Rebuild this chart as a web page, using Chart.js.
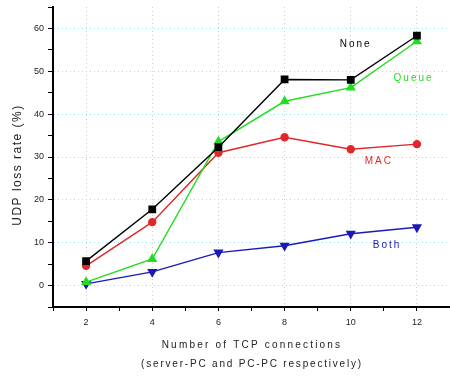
<!DOCTYPE html>
<html>
<head>
<meta charset="utf-8">
<script src="https://cdn.jsdelivr.net/npm/chart.js@4"></script>
<style>
  html, body { margin: 0; padding: 0; background: #fff; }
  #wrap { width: 450px; height: 376px; }
</style>
</head>
<body>
<div id="wrap"><canvas id="udpLoss"></canvas></div>
<script>
const connections = [2, 4, 6, 8, 10, 12];
const noneLoss  = [5.7, 17.8, 32.3, 48.1, 48.0, 58.3];
const queueLoss = [0.8, 6.2, 33.6, 43.0, 46.2, 57.0];
const macLoss   = [4.6, 14.8, 31.0, 34.6, 31.8, 33.0];
const bothLoss  = [0.4, 3.2, 7.7, 9.3, 12.1, 13.6];

const seriesNames  = ['None', 'Queue', 'MAC', 'Both'];
const seriesColors = ['#000000', '#22dd22', '#e02828', '#1a1ab8'];
const seriesMarks  = ['rect', 'triangle', 'circle', 'triangle'];
// where each series name is written, in data units
const labelX = [10.15, 11.9, 10.85, 11.1];
const labelY = [56.3, 48.3, 28.9, 9.5];

const xTitle = ['Number of TCP connections', '(server-PC and PC-PC respectively)'];
const yTitle = 'UDP loss rate (%)';

const toPoints = vals => connections.map((c, i) => ({ x: c, y: vals[i] }));
const allSeries = [noneLoss, queueLoss, macLoss, bothLoss];
const fontFam = '"Liberation Sans", Arial, sans-serif';

// series names + axis titles (drawn by hand to get the wide letter spacing)
const textLayer = {
  id: 'textLayer',
  afterDatasetsDraw(chart) {
    const { ctx, chartArea, scales: { x, y } } = chart;
    ctx.save();
    ctx.textAlign = 'center';
    ctx.textBaseline = 'middle';
    ctx.font = '10px ' + fontFam;
    ctx.letterSpacing = '2px';
    seriesNames.forEach((name, i) => {
      ctx.fillStyle = seriesColors[i];
      ctx.fillText(name, x.getPixelForValue(labelX[i]), y.getPixelForValue(labelY[i]));
    });

    ctx.fillStyle = '#222';
    const cx = 252;
    ctx.font = '10px ' + fontFam;
    ctx.letterSpacing = '2.2px';
    ctx.fillText(xTitle[0], cx, chartArea.bottom + 38);
    ctx.letterSpacing = '1.8px';
    ctx.fillText(xTitle[1], cx, chartArea.bottom + 57);

    ctx.translate(18, chartArea.top + 158);
    ctx.rotate(-Math.PI / 2);
    ctx.font = '12px ' + fontFam;
    ctx.letterSpacing = '1.5px';
    ctx.fillText(yTitle, 0, 0);
    ctx.restore();
  }
};

const gridColor = '#9fdfe6';

new Chart(document.getElementById('udpLoss'), {
  type: 'scatter',
  data: {
    datasets: allSeries.map((vals, i) => ({
      label: seriesNames[i],
      data: toPoints(vals),
      showLine: true,
      borderColor: seriesColors[i],
      backgroundColor: seriesColors[i],
      borderWidth: 1.4,
      pointStyle: seriesMarks[i],
      pointRotation: i === 3 ? 180 : 0,
      pointRadius: i === 2 ? 3.5 : 4.5,
      pointHoverRadius: 4.5
    }))
  },
  options: {
    responsive: true,
    maintainAspectRatio: false,
    animation: false,
    layout: { autoPadding: false, padding: { top: 7, right: 0, left: 0, bottom: 0 } },
    plugins: {
      legend: { display: false },
      tooltip: { enabled: false }
    },
    scales: {
      x: {
        type: 'linear',
        min: 1, max: 13,
        afterFit(scale) {
          scale.height = 69;
          scale.paddingRight = 0;
          scale.paddingLeft = 0;
        },
        ticks: {
          stepSize: 1,
          color: '#222',
          font: { size: 9, family: fontFam },
          padding: 6,
          maxRotation: 0,
          autoSkip: false,
          callback: v => (v % 2 === 0 ? v : '')
        },
        grid: {
          color: ctx => (ctx.tick && ctx.tick.value % 2 === 0 ? gridColor : 'rgba(0,0,0,0)'),
          lineWidth: 1,
          tickLength: 4,
          tickColor: '#000'
        },
        border: { color: '#000', width: 2, dash: [1, 3] }
      },
      y: {
        type: 'linear',
        min: -5, max: 65,
        afterFit(scale) {
          scale.width = 53;
          scale.paddingTop = 0;
          scale.paddingBottom = 0;
        },
        ticks: {
          stepSize: 5,
          color: '#222',
          font: { size: 9, family: fontFam },
          padding: 4,
          autoSkip: false,
          callback: v => (v % 10 === 0 && v >= 0 && v <= 60 ? v : '')
        },
        grid: {
          color: ctx => (ctx.tick && ctx.tick.value % 10 === 0 && ctx.tick.value >= 0 && ctx.tick.value <= 60 ? gridColor : 'rgba(0,0,0,0)'),
          lineWidth: 1,
          tickLength: 5,
          tickColor: '#000'
        },
        border: { color: '#000', width: 2, dash: [1, 3] }
      }
    }
  },
  plugins: [textLayer]
});
</script>
</body>
</html>
